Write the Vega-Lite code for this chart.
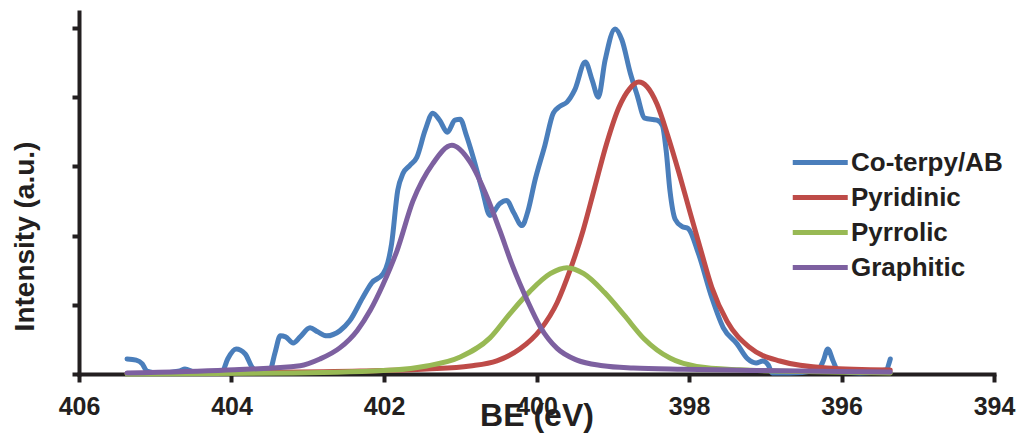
{
  "$schema": "https://vega.github.io/schema/vega-lite/v6.json",
  "width": 915,
  "height": 362,
  "autosize": {"type": "none"},
  "padding": {"left": 79, "top": 12, "right": 27, "bottom": 64},
  "background": "white",
  "config": {
    "view": {"stroke": null},
    "font": "Liberation Sans",
    "axis": {
      "grid": false,
      "domainColor": "#231F20",
      "domainWidth": 4,
      "domainCap": "square",
      "tickColor": "#231F20",
      "tickWidth": 4,
      "tickSize": 8,
      "labelFont": "Liberation Sans",
      "labelFontSize": 25,
      "labelFontWeight": "bold",
      "labelColor": "#231F20",
      "titleFont": "Liberation Sans",
      "titleFontWeight": "bold",
      "titleColor": "#231F20"
    }
  },
  "data": {
    "values": [
      {"s": "Co-terpy/AB", "be": 405.37, "y": 0.217},
      {"s": "Co-terpy/AB", "be": 405.25, "y": 0.2},
      {"s": "Co-terpy/AB", "be": 405.17, "y": 0.145},
      {"s": "Co-terpy/AB", "be": 405.11, "y": 0.043},
      {"s": "Co-terpy/AB", "be": 404.94, "y": 0.015},
      {"s": "Co-terpy/AB", "be": 404.68, "y": 0.043},
      {"s": "Co-terpy/AB", "be": 404.61, "y": 0.072},
      {"s": "Co-terpy/AB", "be": 404.48, "y": 0.03},
      {"s": "Co-terpy/AB", "be": 404.12, "y": 0.043},
      {"s": "Co-terpy/AB", "be": 404.05, "y": 0.217},
      {"s": "Co-terpy/AB", "be": 403.94, "y": 0.36},
      {"s": "Co-terpy/AB", "be": 403.82, "y": 0.29},
      {"s": "Co-terpy/AB", "be": 403.74, "y": 0.116},
      {"s": "Co-terpy/AB", "be": 403.68, "y": 0.03},
      {"s": "Co-terpy/AB", "be": 403.5, "y": 0.043},
      {"s": "Co-terpy/AB", "be": 403.43, "y": 0.304},
      {"s": "Co-terpy/AB", "be": 403.36, "y": 0.551},
      {"s": "Co-terpy/AB", "be": 403.29, "y": 0.536},
      {"s": "Co-terpy/AB", "be": 403.19, "y": 0.449},
      {"s": "Co-terpy/AB", "be": 403.1, "y": 0.536},
      {"s": "Co-terpy/AB", "be": 402.97, "y": 0.667},
      {"s": "Co-terpy/AB", "be": 402.87, "y": 0.609},
      {"s": "Co-terpy/AB", "be": 402.75, "y": 0.551},
      {"s": "Co-terpy/AB", "be": 402.58, "y": 0.623},
      {"s": "Co-terpy/AB", "be": 402.45, "y": 0.768},
      {"s": "Co-terpy/AB", "be": 402.28, "y": 1.101},
      {"s": "Co-terpy/AB", "be": 402.16, "y": 1.319},
      {"s": "Co-terpy/AB", "be": 402.01, "y": 1.449},
      {"s": "Co-terpy/AB", "be": 401.95, "y": 1.609},
      {"s": "Co-terpy/AB", "be": 401.9, "y": 1.884},
      {"s": "Co-terpy/AB", "be": 401.82, "y": 2.652},
      {"s": "Co-terpy/AB", "be": 401.75, "y": 2.899},
      {"s": "Co-terpy/AB", "be": 401.66, "y": 3.014},
      {"s": "Co-terpy/AB", "be": 401.57, "y": 3.13},
      {"s": "Co-terpy/AB", "be": 401.46, "y": 3.522},
      {"s": "Co-terpy/AB", "be": 401.36, "y": 3.768},
      {"s": "Co-terpy/AB", "be": 401.27, "y": 3.667},
      {"s": "Co-terpy/AB", "be": 401.17, "y": 3.493},
      {"s": "Co-terpy/AB", "be": 401.07, "y": 3.667},
      {"s": "Co-terpy/AB", "be": 401.0, "y": 3.681},
      {"s": "Co-terpy/AB", "be": 400.92, "y": 3.449},
      {"s": "Co-terpy/AB", "be": 400.83, "y": 3.13},
      {"s": "Co-terpy/AB", "be": 400.71, "y": 2.652},
      {"s": "Co-terpy/AB", "be": 400.61, "y": 2.29},
      {"s": "Co-terpy/AB", "be": 400.48, "y": 2.464},
      {"s": "Co-terpy/AB", "be": 400.39, "y": 2.507},
      {"s": "Co-terpy/AB", "be": 400.3, "y": 2.333},
      {"s": "Co-terpy/AB", "be": 400.19, "y": 2.145},
      {"s": "Co-terpy/AB", "be": 400.11, "y": 2.362},
      {"s": "Co-terpy/AB", "be": 400.02, "y": 2.797},
      {"s": "Co-terpy/AB", "be": 399.89, "y": 3.304},
      {"s": "Co-terpy/AB", "be": 399.78, "y": 3.768},
      {"s": "Co-terpy/AB", "be": 399.69, "y": 3.87},
      {"s": "Co-terpy/AB", "be": 399.6, "y": 3.928},
      {"s": "Co-terpy/AB", "be": 399.5, "y": 4.1},
      {"s": "Co-terpy/AB", "be": 399.36, "y": 4.507},
      {"s": "Co-terpy/AB", "be": 399.27, "y": 4.246},
      {"s": "Co-terpy/AB", "be": 399.19, "y": 4.0},
      {"s": "Co-terpy/AB", "be": 399.1, "y": 4.536},
      {"s": "Co-terpy/AB", "be": 398.97, "y": 4.986},
      {"s": "Co-terpy/AB", "be": 398.88, "y": 4.826},
      {"s": "Co-terpy/AB", "be": 398.77, "y": 4.348},
      {"s": "Co-terpy/AB", "be": 398.68, "y": 4.029},
      {"s": "Co-terpy/AB", "be": 398.58, "y": 3.696},
      {"s": "Co-terpy/AB", "be": 398.42, "y": 3.667},
      {"s": "Co-terpy/AB", "be": 398.35, "y": 3.594},
      {"s": "Co-terpy/AB", "be": 398.3, "y": 3.232},
      {"s": "Co-terpy/AB", "be": 398.25, "y": 2.652},
      {"s": "Co-terpy/AB", "be": 398.18, "y": 2.232},
      {"s": "Co-terpy/AB", "be": 398.09, "y": 2.13},
      {"s": "Co-terpy/AB", "be": 398.01, "y": 2.101},
      {"s": "Co-terpy/AB", "be": 397.88, "y": 1.754},
      {"s": "Co-terpy/AB", "be": 397.7, "y": 1.101},
      {"s": "Co-terpy/AB", "be": 397.55, "y": 0.667},
      {"s": "Co-terpy/AB", "be": 397.37, "y": 0.435},
      {"s": "Co-terpy/AB", "be": 397.23, "y": 0.217},
      {"s": "Co-terpy/AB", "be": 397.12, "y": 0.159},
      {"s": "Co-terpy/AB", "be": 397.03, "y": 0.188},
      {"s": "Co-terpy/AB", "be": 396.96, "y": 0.13},
      {"s": "Co-terpy/AB", "be": 396.91, "y": 0.015},
      {"s": "Co-terpy/AB", "be": 396.68, "y": 0.015},
      {"s": "Co-terpy/AB", "be": 396.31, "y": 0.058},
      {"s": "Co-terpy/AB", "be": 396.24, "y": 0.188},
      {"s": "Co-terpy/AB", "be": 396.18, "y": 0.362},
      {"s": "Co-terpy/AB", "be": 396.11, "y": 0.188},
      {"s": "Co-terpy/AB", "be": 396.05, "y": 0.058},
      {"s": "Co-terpy/AB", "be": 395.76, "y": 0.015},
      {"s": "Co-terpy/AB", "be": 395.42, "y": 0.058},
      {"s": "Co-terpy/AB", "be": 395.36, "y": 0.217},

      {"s": "Pyridinic", "be": 405.37, "y": 0.007},
      {"s": "Pyridinic", "be": 404.5, "y": 0.015},
      {"s": "Pyridinic", "be": 403.76, "y": 0.022},
      {"s": "Pyridinic", "be": 402.31, "y": 0.043},
      {"s": "Pyridinic", "be": 401.44, "y": 0.072},
      {"s": "Pyridinic", "be": 400.87, "y": 0.116},
      {"s": "Pyridinic", "be": 400.52, "y": 0.19},
      {"s": "Pyridinic", "be": 400.22, "y": 0.36},
      {"s": "Pyridinic", "be": 399.95, "y": 0.64},
      {"s": "Pyridinic", "be": 399.73, "y": 1.03},
      {"s": "Pyridinic", "be": 399.56, "y": 1.5},
      {"s": "Pyridinic", "be": 399.39, "y": 2.07},
      {"s": "Pyridinic", "be": 399.24, "y": 2.68},
      {"s": "Pyridinic", "be": 399.08, "y": 3.33},
      {"s": "Pyridinic", "be": 398.92, "y": 3.85},
      {"s": "Pyridinic", "be": 398.78, "y": 4.12},
      {"s": "Pyridinic", "be": 398.66, "y": 4.217},
      {"s": "Pyridinic", "be": 398.55, "y": 4.15},
      {"s": "Pyridinic", "be": 398.42, "y": 3.9},
      {"s": "Pyridinic", "be": 398.28, "y": 3.45},
      {"s": "Pyridinic", "be": 398.13, "y": 2.9},
      {"s": "Pyridinic", "be": 397.99, "y": 2.35},
      {"s": "Pyridinic", "be": 397.84, "y": 1.77},
      {"s": "Pyridinic", "be": 397.7, "y": 1.25},
      {"s": "Pyridinic", "be": 397.5, "y": 0.76},
      {"s": "Pyridinic", "be": 397.2, "y": 0.38},
      {"s": "Pyridinic", "be": 396.81, "y": 0.188},
      {"s": "Pyridinic", "be": 396.19, "y": 0.087},
      {"s": "Pyridinic", "be": 395.36, "y": 0.058},

      {"s": "Pyrrolic", "be": 405.37, "y": 0.0},
      {"s": "Pyrrolic", "be": 403.19, "y": 0.015},
      {"s": "Pyrrolic", "be": 401.88, "y": 0.058},
      {"s": "Pyrrolic", "be": 401.44, "y": 0.116},
      {"s": "Pyrrolic", "be": 401.0, "y": 0.246},
      {"s": "Pyrrolic", "be": 400.61, "y": 0.522},
      {"s": "Pyrrolic", "be": 400.35, "y": 0.87},
      {"s": "Pyrrolic", "be": 400.09, "y": 1.19},
      {"s": "Pyrrolic", "be": 399.82, "y": 1.449},
      {"s": "Pyrrolic", "be": 399.6, "y": 1.536},
      {"s": "Pyrrolic", "be": 399.38, "y": 1.449},
      {"s": "Pyrrolic", "be": 399.11, "y": 1.18},
      {"s": "Pyrrolic", "be": 398.85, "y": 0.85},
      {"s": "Pyrrolic", "be": 398.59, "y": 0.51},
      {"s": "Pyrrolic", "be": 398.25, "y": 0.23},
      {"s": "Pyrrolic", "be": 397.9, "y": 0.11},
      {"s": "Pyrrolic", "be": 397.33, "y": 0.06},
      {"s": "Pyrrolic", "be": 396.54, "y": 0.035},
      {"s": "Pyrrolic", "be": 395.36, "y": 0.015},

      {"s": "Graphitic", "be": 405.37, "y": 0.014},
      {"s": "Graphitic", "be": 404.06, "y": 0.058},
      {"s": "Graphitic", "be": 403.1, "y": 0.12},
      {"s": "Graphitic", "be": 402.84, "y": 0.217},
      {"s": "Graphitic", "be": 402.58, "y": 0.377},
      {"s": "Graphitic", "be": 402.35, "y": 0.63},
      {"s": "Graphitic", "be": 402.18, "y": 0.92},
      {"s": "Graphitic", "be": 402.01, "y": 1.3},
      {"s": "Graphitic", "be": 401.83, "y": 1.78},
      {"s": "Graphitic", "be": 401.62, "y": 2.5},
      {"s": "Graphitic", "be": 401.36, "y": 3.04},
      {"s": "Graphitic", "be": 401.11, "y": 3.304},
      {"s": "Graphitic", "be": 400.87, "y": 3.06},
      {"s": "Graphitic", "be": 400.65, "y": 2.56},
      {"s": "Graphitic", "be": 400.48, "y": 2.07},
      {"s": "Graphitic", "be": 400.31, "y": 1.55},
      {"s": "Graphitic", "be": 400.12, "y": 1.06},
      {"s": "Graphitic", "be": 399.95, "y": 0.68},
      {"s": "Graphitic", "be": 399.73, "y": 0.37},
      {"s": "Graphitic", "be": 399.47, "y": 0.2},
      {"s": "Graphitic", "be": 399.13, "y": 0.12},
      {"s": "Graphitic", "be": 398.73, "y": 0.087},
      {"s": "Graphitic", "be": 398.08, "y": 0.068},
      {"s": "Graphitic", "be": 397.2, "y": 0.052},
      {"s": "Graphitic", "be": 395.36, "y": 0.029}
    ]
  },
  "encoding": {
    "x": {
      "field": "be",
      "type": "quantitative",
      "scale": {"domain": [394, 406], "reverse": true, "nice": false, "zero": false},
      "axis": {
        "values": [394, 396, 398, 400, 402, 404, 406],
        "format": "d",
        "title": "BE (eV)",
        "titleFontSize": 32,
        "titleBaseline": "alphabetic",
        "titleY": 51,
        "labelBaseline": "alphabetic",
        "labelPadding": 32,
        "labelFlush": false,
        "labelOverlap": false
      }
    },
    "y": {
      "field": "y",
      "type": "quantitative",
      "scale": {"domain": [0, 5.23], "nice": false, "zero": false},
      "axis": {
        "values": [0, 1, 2, 3, 4, 5],
        "labels": false,
        "tickSize": 7,
        "title": "Intensity (a.u.)",
        "titleFontSize": 28,
        "titleBaseline": "alphabetic",
        "titleAngle": -90,
        "titleAlign": "center",
        "titleX": -46,
        "titleY": 224
      }
    },
    "color": {
      "field": "s",
      "type": "nominal",
      "scale": {
        "domain": ["Co-terpy/AB", "Pyridinic", "Pyrrolic", "Graphitic"],
        "range": ["#4A7EBB", "#BE4B48", "#98B954", "#7D60A0"]
      },
      "legend": {
        "orient": "none",
        "legendX": 711,
        "legendY": 134,
        "title": null,
        "padding": 0,
        "symbolType": "M-1,0H3",
        "symbolSize": 756,
        "symbolStrokeWidth": 5,
        "symbolFillColor": "transparent",
        "labelFont": "Liberation Sans",
        "labelFontSize": 26,
        "labelFontWeight": "bold",
        "labelColor": "#231F20",
        "labelOffset": 28,
        "rowPadding": 5,
        "labelLimit": 300
      }
    }
  },
  "layer": [
    {"transform": [{"filter": "datum.s === 'Co-terpy/AB'"}], "mark": {"type": "line", "interpolate": "monotone", "strokeWidth": 5, "strokeCap": "round", "strokeJoin": "round"}},
    {"transform": [{"filter": "datum.s === 'Pyridinic'"}], "mark": {"type": "line", "interpolate": "monotone", "strokeWidth": 5, "strokeCap": "round", "strokeJoin": "round"}},
    {"transform": [{"filter": "datum.s === 'Pyrrolic'"}], "mark": {"type": "line", "interpolate": "monotone", "strokeWidth": 5, "strokeCap": "round", "strokeJoin": "round"}},
    {"transform": [{"filter": "datum.s === 'Graphitic'"}], "mark": {"type": "line", "interpolate": "monotone", "strokeWidth": 5, "strokeCap": "round", "strokeJoin": "round"}}
  ]
}
